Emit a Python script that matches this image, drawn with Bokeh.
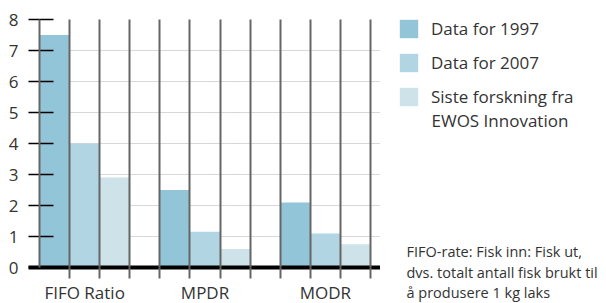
from bokeh.plotting import figure
from bokeh.layouts import row, column
from bokeh.models import Range1d, FixedTicker, Legend, LegendItem, Label
from bokeh.embed import file_html
from bokeh.resources import INLINE

# ---- data ----
categories = ["FIFO Ratio", "MPDR", "MODR"]
series_names = ["Data for 1997", "Data for 2007", "Siste forskning fra"]
series_name_cont = "EWOS Innovation"
data_1997 = [7.5, 2.5, 2.1]
data_2007 = [4.0, 1.15, 1.1]
data_new = [2.9, 0.6, 0.75]
y_ticks = [0, 1, 2, 3, 4, 5, 6, 7, 8]
footnote = ["FIFO-rate: Fisk inn: Fisk ut,",
            "dvs. totalt antall fisk brukt til",
            "å produsere 1 kg laks"]

colors = ["#92c5d8", "#b1d5e2", "#cde2e9"]
FONT = "Open Sans"
TXT = "#333333"

group_step = 4  # 3 bars + 1 gap
n_groups = len(categories)
boundaries = list(range(0, group_step * n_groups))
centers = [group_step * i + 1.5 for i in range(n_groups)]
series = [data_1997, data_2007, data_new]

# ---------------- chart ----------------
p = figure(output_backend="svg", toolbar_location=None, title=None,
           x_range=Range1d(-0.365, 11.33), y_range=Range1d(0, 8),
           frame_width=352, frame_height=248,
           min_border_left=28, min_border_top=19, min_border_right=0,
           min_border_bottom=36)
p.outline_line_color = None

for j, vals in enumerate(series):
    xs = [group_step * i + j + 0.5 for i in range(n_groups)]
    p.vbar(x=xs, top=vals, width=1.0, bottom=0, fill_color=colors[j],
           line_color=None)

xa = p.xaxis[0]
xa.ticker = FixedTicker(ticks=centers, minor_ticks=boundaries[1:])
xa.major_label_overrides = {c: name for c, name in zip(centers, categories)}
xa.axis_line_width = 4
xa.axis_line_color = "black"
xa.major_tick_line_color = None
xa.major_tick_in = 0
xa.major_tick_out = 0
xa.minor_tick_out = 11
xa.minor_tick_in = 0
xa.minor_tick_line_color = "#666666"
xa.minor_tick_line_width = 2
xa.major_label_standoff = 2
xa.major_label_text_font = FONT
xa.major_label_text_font_size = "17px"
xa.major_label_text_color = TXT

ya = p.yaxis[0]
ya.ticker = FixedTicker(ticks=y_ticks)
ya.axis_line_color = None
ya.major_tick_in = 25
ya.major_tick_out = 0
ya.major_tick_line_color = "black"
ya.major_tick_line_width = 1.5
ya.minor_tick_line_color = None
ya.major_label_standoff = 10
ya.major_label_text_font = FONT
ya.major_label_text_font_size = "17px"
ya.major_label_text_color = TXT

p.ygrid.ticker = FixedTicker(ticks=y_ticks[1:])
p.ygrid.grid_line_color = "#b0b0b0"
p.ygrid.grid_line_dash = "1 1"
p.ygrid.grid_line_width = 1
p.xgrid.ticker = FixedTicker(ticks=boundaries)
p.xgrid.grid_line_color = "#666666"
p.xgrid.grid_line_width = 2
p.xgrid.level = "overlay"

# ---------------- legend + footnote panel ----------------
W2, H2 = 226, 303
q = figure(width=W2, height=H2, output_backend="svg", toolbar_location=None,
           title=None, x_range=Range1d(0, W2), y_range=Range1d(H2, 0),
           min_border_left=0, min_border_right=0, min_border_top=0,
           min_border_bottom=0, x_axis_type=None, y_axis_type=None)
q.outline_line_color = None
q.grid.visible = False

leg_r = []
for k, vals in enumerate(series):
    xs = [group_step * i + k + 0.5 for i in range(n_groups)]
    leg_r.append(q.vbar(x=xs, top=vals, width=1, fill_color=colors[k],
                        line_color=None, visible=False))
legend = Legend(items=[LegendItem(label=series_names[k], renderers=[leg_r[k]])
                       for k in range(3)],
                location="top_left", orientation="vertical",
                glyph_width=23, glyph_height=23, label_standoff=11,
                spacing=11, padding=0, margin=17,
                border_line_color=None, background_fill_alpha=0,
                inactive_fill_alpha=0,
                label_text_font=FONT, label_text_font_size="17px",
                label_text_color=TXT, label_height=23)
q.add_layout(legend, "center")
q.add_layout(Label(x=51, y=120, text=series_name_cont, text_font=FONT,
                   text_font_size="17px", text_color=TXT,
                   text_baseline="alphabetic"))

for k, line in enumerate(footnote):
    q.add_layout(Label(x=26, y=251 + 20.5 * k, text=line, text_font=FONT,
                       text_font_size="14.5px", text_color=TXT,
                       text_baseline="alphabetic"))

layout = row(p, column(q), spacing=0)
open("out.html", "w").write(file_html(layout, INLINE))
